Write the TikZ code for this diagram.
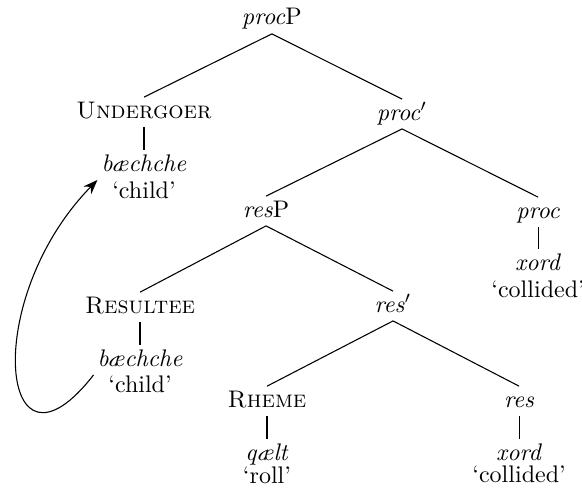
\documentclass[tikz,border=0pt]{standalone}
\usepackage{tikz}
\usetikzlibrary{arrows.meta, positioning}

\begin{document}
\begin{tikzpicture}[
    node distance=0pt,
    cat/.style={
        anchor=base, inner sep=1.5pt,
        text height=7pt, text depth=2pt
    },
    gloss/.style={inner sep=1.5pt, text height=7pt, text depth=2pt},
    branch/.style={line width=0.45pt, draw=black},
    arrow/.style={-{Stealth[length=6pt, width=4.5pt]}, line width=0.45pt}
]
\useasboundingbox (0,0) rectangle (8.52,-7.25);

% Tree nodes
\node[cat] (procP) at (3.98,-0.366) {\textit{proc}P};
\node[cat] (undergoer) at (2.108,-1.728) {\textsc{Undergoer}};
\node[cat] (procbar) at (5.886,-1.757) {\textit{proc}$'$};
\node[cat] (resP) at (3.895,-3.177) {\textit{res}P};
\node[cat] (proc) at (7.877,-3.192) {\textit{proc}};
\node[cat] (resultee) at (2.050,-4.583) {\textsc{Resultee}};
\node[cat] (resbar) at (5.754,-4.568) {\textit{res}$'$};
\node[cat] (rheme) at (3.909,-5.959) {\textsc{Rheme}};
\node[cat] (res) at (7.599,-5.959) {\textit{res}};

% Words and glosses
\node[cat] (bae1) at (2.108,-2.504) {\textit{b\ae chche}};
\node[gloss, below=-1pt of bae1] (child1) {`child'};
\node[cat] (xord1) at (7.877,-3.953) {\textit{xord}};
\node[gloss, below=-1pt of xord1] (coll1) {`collided'};
\node[cat] (bae2) at (2.050,-5.359) {\textit{b\ae chche}};
\node[gloss, below=-1.5pt of bae2] (child2) {`child'};
\node[cat] (qaelt) at (3.909,-6.735) {\textit{q\ae lt}};
\node[gloss, below=-2.5pt of qaelt] (roll) {`roll'};
\node[cat] (xord2) at (7.599,-6.735) {\textit{xord}};
\node[gloss, below=-3pt of xord2] (coll2) {`collided'};

% Branches
\draw[branch] (procP.south) -- (undergoer.north);
\draw[branch] (procP.south) -- (procbar.north);
\draw[branch] (procbar.south) -- (resP.north);
\draw[branch] (procbar.south) -- (proc.north);
\draw[branch] (resP.south) -- (resultee.north);
\draw[branch] (resP.south) -- (resbar.north);
\draw[branch] (resbar.south) -- (rheme.north);
\draw[branch] (resbar.south) -- (res.north);
\draw[branch] (undergoer.south) -- (bae1.north);
\draw[branch] (proc.south) -- (xord1.north);
\draw[branch] (resultee.south) -- (bae2.north);
\draw[branch] (rheme.south) -- (qaelt.north);
\draw[branch] (res.south) -- (xord2.north);

% Movement arrow
\draw[arrow] (bae2.south west) .. controls (0,-7.247) and (-0.293,-4.392) .. (bae1.south west);

\end{tikzpicture}
\end{document}
